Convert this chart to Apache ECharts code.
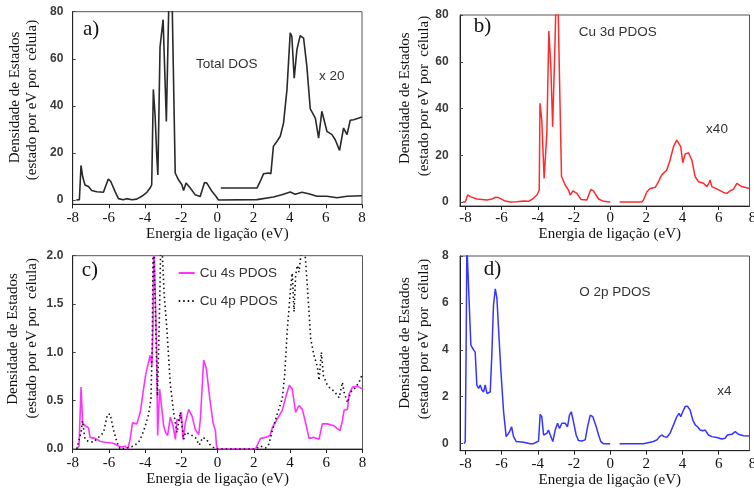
<!DOCTYPE html>
<html>
<head>
<meta charset="utf-8">
<script src="https://cdn.jsdelivr.net/npm/echarts@6/dist/echarts.min.js"></script>
<style>html,body{margin:0;padding:0;background:#fff}#c{width:754px;height:490px}</style>
</head>
<body>
<div id="c"></div>
<script>
// ---- tick labels ----
const xTicks = [-8, -6, -4, -2, 0, 2, 4, 6, 8];
const yTicksA = [0, 20, 40, 60, 80];
const yTicksB = [0, 20, 40, 60, 80];
const yTicksC = [0, 0.5, 1.0, 1.5, 2.0];
const yTicksD = [0, 2, 4, 6, 8];

// ---- a) Total DOS ----
const totalDOS = [[-7.8,0],[-7.63,0.2],[-7.54,14.7],[-7.45,10],[-7.32,6.4],[-7.13,5.8],[-6.95,4.1],[-6.67,3.5],[-6.3,3.3],[-6.15,6.5],[-6.03,8.9],[-5.9,8],[-5.84,7.5],[-5.66,3.7],[-5.47,0.6],[-5.2,0.1],[-5.01,0.6],[-4.73,0.1],[-4.46,0.4],[-4.18,1.6],[-3.9,3.3],[-3.72,5.1],[-3.63,6.5],[-3.54,47],[-3.44,35.6],[-3.35,18.6],[-3.29,10.7],[-3.17,65],[-3.0,76.6],[-2.82,33.4],[-2.68,85],[-2.5,84],[-2.33,11.5],[-2.15,8.6],[-1.96,6.5],[-1.87,4.1],[-1.73,7.2],[-1.5,5.1],[-1.23,2.3],[-0.95,1.5],[-0.71,7.5],[-0.58,7.2],[-0.3,3.7],[-0.07,1.5],[0.06,0],[2.19,0.2],[3.1,1.3],[3.57,2.3],[4.03,3.4],[4.3,2.5],[4.68,3.3],[5.05,2.7],[5.51,1.6],[6.06,1.6],[6.62,1.0],[7.17,1.6],[8,1.8]];
const totalDOSx20 = [[0.19,5.1],[2.19,5.1],[2.37,7.9],[2.56,11.2],[2.83,11.5],[2.96,11.2],[3.1,22.8],[3.29,24.9],[3.48,27.1],[3.66,32.7],[3.85,46.9],[4.03,71],[4.12,69.5],[4.25,51.8],[4.4,63.9],[4.58,69.8],[4.77,68.8],[4.95,56.8],[5.14,38.7],[5.42,34.8],[5.6,26.3],[5.78,37.7],[6.06,29.2],[6.34,27.8],[6.52,25.6],[6.76,21.1],[6.98,30.6],[7.17,27.8],[7.35,33.9],[7.54,34.1],[8,35.3]];

// ---- b) Cu 3d PDOS ----
const cu3dOcc = [[-8.14,0],[-8.01,0],[-7.88,3.0],[-7.73,2.3],[-7.37,1.3],[-6.81,0.9],[-6.54,1.3],[-6.35,2.0],[-6.17,1.9],[-5.8,0.4],[-5.52,0],[-5.16,0.1],[-4.79,0.4],[-4.51,0.3],[-4.24,1.6],[-4.05,3.0],[-3.92,5.1],[-3.88,42.2],[-3.78,35.1],[-3.65,10.1],[-3.5,29.4],[-3.39,73.2],[-3.28,57.9],[-3.18,32.2],[-3.06,65],[-3.0,84],[-2.88,84],[-2.78,45],[-2.69,11],[-2.49,7.3],[-2.3,5.1],[-2.21,3.0],[-2.06,4.8],[-1.84,3.7],[-1.62,1.1],[-1.29,0.9],[-1.07,5.4],[-0.92,4.7],[-0.64,1.3],[-0.37,0.3],[0,0]];
const cu3dUnocc = [[0.52,0],[1.75,0],[1.84,0.9],[2.03,4.4],[2.21,5.8],[2.49,6.3],[2.67,8.7],[2.85,11.6],[3.13,13.7],[3.31,18],[3.5,23.7],[3.68,26.5],[3.78,26.5],[3.9,23.7],[4.01,16.8],[4.14,20.5],[4.33,21.1],[4.51,18],[4.7,10.8],[4.88,8.7],[5.16,8.0],[5.34,6.6],[5.47,8.3],[5.52,9.4],[5.62,6.6],[5.89,5.6],[6.26,4.1],[6.45,3.7],[6.63,4.8],[6.81,5.4],[7.0,8.0],[7.27,6.6],[7.7,5.8]];

// ---- c) Cu 4s / Cu 4p PDOS ----
const cu4s = [[-7.78,0],[-7.65,0.03],[-7.54,0.64],[-7.45,0.27],[-7.32,0.24],[-7.13,0.22],[-7.04,0.12],[-6.76,0.11],[-6.49,0.08],[-6.21,0.07],[-5.75,0.06],[-5.47,0.03],[-5.29,0.02],[-5.1,0.03],[-4.96,0],[-4.83,0.1],[-4.7,0.27],[-4.46,0.26],[-4.27,0.38],[-4.09,0.62],[-3.96,0.78],[-3.85,0.78],[-3.72,0.97],[-3.63,0.86],[-3.57,1.24],[-3.52,2.2],[-3.44,2.2],[-3.37,1.07],[-3.31,0.14],[-3.2,0.62],[-3.09,0.62],[-2.98,0.24],[-2.87,0.17],[-2.76,0.14],[-2.61,0.33],[-2.46,0.24],[-2.33,0.1],[-2.24,0.31],[-2.11,0.29],[-2.0,0.38],[-1.91,0.1],[-1.78,0.27],[-1.6,0.41],[-1.41,0.34],[-1.23,0.2],[-1.04,0.15],[-0.95,0.31],[-0.77,0.92],[-0.62,0.83],[-0.43,0.52],[-0.25,0.27],[-0.12,0.19],[-0.06,0.03],[0,0],[2.09,0],[2.37,0.11],[2.65,0.12],[2.89,0.14],[3.02,0.22],[3.29,0.31],[3.57,0.4],[3.81,0.57],[3.96,0.66],[4.12,0.62],[4.31,0.38],[4.49,0.45],[4.68,0.41],[4.86,0.27],[5.05,0.11],[5.32,0.12],[5.6,0.1],[5.78,0.26],[6.06,0.26],[6.43,0.24],[6.76,0.19],[6.89,0.29],[6.98,0.4],[7.17,0.41],[7.26,0.57],[7.45,0.64],[7.72,0.65],[8,0.62]];
const cu4p = [[-7.78,0],[-7.54,0.17],[-7.46,0.29],[-7.32,0.1],[-7.13,0.08],[-6.86,0.07],[-6.58,0.12],[-6.3,0.17],[-6.08,0.36],[-5.93,0.36],[-5.75,0.2],[-5.56,0.07],[-5.38,0],[-5.01,0.01],[-4.64,0.03],[-4.36,0.07],[-4.18,0.14],[-3.99,0.24],[-3.81,0.36],[-3.68,0.52],[-3.61,1.07],[-3.55,2.3],[-3.45,2.3],[-3.38,1.0],[-3.32,0.55],[-3.22,1.3],[-3.12,2.3],[-3.04,2.3],[-2.95,1.6],[-2.8,1.24],[-2.61,0.67],[-2.43,0.38],[-2.24,0.17],[-2.06,0.38],[-1.87,0.1],[-1.78,0.17],[-1.5,0.15],[-1.23,0.12],[-1.01,0.04],[-0.82,0.12],[-0.62,0.1],[-0.4,0.04],[-0.12,0],[2.09,0],[2.37,0.03],[2.65,0.01],[2.83,0.05],[3.02,0.19],[3.29,0.36],[3.57,0.52],[3.7,0.76],[3.85,1.24],[4.03,1.66],[4.12,1.82],[4.22,1.42],[4.31,1.8],[4.4,1.9],[4.49,1.83],[4.58,1.97],[4.68,2.1],[4.8,2.1],[4.95,1.7],[5.14,1.14],[5.32,0.97],[5.51,0.85],[5.6,0.71],[5.73,1.0],[5.84,0.76],[6.06,0.66],[6.25,0.62],[6.43,0.6],[6.71,0.53],[6.89,0.69],[6.98,0.59],[7.17,0.48],[7.35,0.59],[7.54,0.62],[7.81,0.69],[8,0.78]];

// ---- d) O 2p PDOS ----
const o2pOcc = [[-8.07,0],[-8.01,0.09],[-7.96,4.2],[-7.92,8.5],[-7.81,8.5],[-7.7,4.2],[-7.55,4.0],[-7.46,3.9],[-7.37,2.5],[-7.27,2.36],[-7.18,2.5],[-7.09,2.29],[-7.0,2.2],[-6.91,2.5],[-6.81,2.14],[-6.63,2.2],[-6.54,3.8],[-6.45,5.9],[-6.35,6.6],[-6.26,6.2],[-6.17,4.9],[-6.04,3.1],[-5.89,1.36],[-5.75,0.3],[-5.66,0.3],[-5.56,0.51],[-5.45,0.72],[-5.34,0.3],[-5.19,0.09],[-4.79,0.06],[-4.42,0],[-4.24,0],[-4.09,0.06],[-3.96,0.11],[-3.87,1.25],[-3.78,1.15],[-3.68,0.37],[-3.5,0.44],[-3.41,0.58],[-3.31,0.37],[-3.17,0.09],[-3.04,0.58],[-2.91,0.87],[-2.8,0.65],[-2.67,0.87],[-2.49,0.87],[-2.36,0.72],[-2.25,1.22],[-2.15,1.36],[-2.03,0.94],[-1.88,0.37],[-1.75,0.13],[-1.57,0.11],[-1.38,0.16],[-1.25,0.72],[-1.1,1.22],[-0.96,1.15],[-0.77,0.72],[-0.64,0.37],[-0.52,0.09],[-0.37,0],[0,0]];
const o2pUnocc = [[0.52,0],[1.84,0],[2.39,0.09],[2.58,0.16],[2.73,0.3],[2.85,0.37],[2.98,0.3],[3.13,0.27],[3.31,0.44],[3.5,0.8],[3.68,1.15],[3.81,1.29],[3.9,1.15],[4.01,1.36],[4.14,1.58],[4.27,1.6],[4.42,1.43],[4.57,1.0],[4.7,0.8],[4.83,0.72],[4.97,0.58],[5.12,0.55],[5.25,0.58],[5.43,0.37],[5.62,0.3],[5.89,0.26],[6.17,0.2],[6.35,0.23],[6.48,0.37],[6.72,0.4],[6.91,0.51],[7.09,0.4],[7.37,0.34],[7.7,0.33]];

// ---- text ----
const xTitle = 'Energia de ligação (eV)';
const yTitle1 = 'Densidade de Estados';
const yTitle2 = '(estado por eV por  célula)';

const SERIF = 'Liberation Serif';
const SANS = 'Liberation Sans';

const chart = echarts.init(document.getElementById('c'), null, {renderer: 'canvas'});

function xAxisDef(gi, min, max, labelMargin, nameGap, namePadLeft) {
  const ticks = xTicks.filter(v => v >= min && v <= max);
  return {
    type: 'value', gridIndex: gi, min: min, max: max,
    axisLine: {show: true, onZero: false, lineStyle: {color: '#222', width: 1}},
    axisTick: {show: true, inside: false, length: 4, customValues: ticks, lineStyle: {color: '#222'}},
    axisLabel: {show: true, customValues: ticks, margin: labelMargin, fontFamily: SERIF, fontSize: 15, color: '#111'},
    splitLine: {show: false},
    name: xTitle, nameLocation: 'middle', nameGap: nameGap,
    nameTextStyle: {fontFamily: SERIF, fontSize: 15, color: '#111', padding: [0, 0, 0, namePadLeft]}
  };
}
function yAxisDef(gi, min, max, ticks, margin, fmt) {
  return {
    type: 'value', gridIndex: gi, min: min, max: max,
    axisLine: {show: true, onZero: false, lineStyle: {color: '#222', width: 1}},
    axisTick: {show: true, inside: true, length: 3, customValues: ticks, lineStyle: {color: '#444'}},
    axisLabel: {show: true, customValues: ticks, margin: margin, fontFamily: SANS, fontSize: 12, fontWeight: 'bold', color: '#3a3a3a',
      formatter: fmt || (v => String(v))},
    splitLine: {show: false}
  };
}
function lineSeries(name, xi, data, color, width, dash) {
  return {
    type: 'line', name: name, xAxisIndex: xi, yAxisIndex: xi, data: data,
    showSymbol: false, symbol: 'none', smooth: false, clip: true,
    lineStyle: {color: color, width: width, type: dash || 'solid'},
    itemStyle: {color: color}
  };
}
function gText(x, y, text, font, size, color, align, rot) {
  return {
    type: 'text', x: x, y: y, rotation: rot || 0,
    style: {text: text, fontFamily: font, fontSize: size, fill: color, align: align || 'center', verticalAlign: 'middle'}
  };
}

const R90 = Math.PI / 2;
const option = {
  animation: false,
  backgroundColor: '#fff',
  grid: [
    {left: 72.7, top: 11.7, width: 289.3, height: 192.6, show: true, borderColor: '#555', borderWidth: 1},
    {left: 460, top: 15, width: 289.5, height: 191, show: true, borderColor: '#555', borderWidth: 1},
    {left: 72.7, top: 255.7, width: 289.8, height: 193.3, show: true, borderColor: '#555', borderWidth: 1},
    {left: 460, top: 256, width: 289.5, height: 194.7, show: true, borderColor: '#555', borderWidth: 1}
  ],
  xAxis: [
    xAxisDef(0, -8, 8, 6, 15.5, 0),
    xAxisDef(1, -8.3, 7.7, 5, 20.5, 10),
    xAxisDef(2, -8, 8, 7, 22.5, 0),
    xAxisDef(3, -8.3, 7.7, 5.5, 21, 10)
  ],
  yAxis: [
    yAxisDef(0, -1.8, 80, yTicksA, 9.4),
    yAxisDef(1, -1.7, 80, yTicksB, 11.3),
    yAxisDef(2, 0, 2, yTicksC, 9.4, v => v.toFixed(1)),
    yAxisDef(3, -0.3, 8, yTicksD, 11.3)
  ],
  legend: {
    data: ['Cu 4s PDOS', 'Cu 4p PDOS'],
    orient: 'vertical', left: 172.7, top: 261,
    itemWidth: 16, itemHeight: 14, itemGap: 14,
    itemStyle: {opacity: 0},
    textStyle: {fontFamily: SANS, fontSize: 13.5, color: '#333'}
  },
  series: [
    lineSeries('Total DOS', 0, totalDOS, '#2a2a2a', 1.6),
    lineSeries('Total DOS x 20', 0, totalDOSx20, '#2a2a2a', 1.6),
    lineSeries('Cu 3d PDOS', 1, cu3dOcc, '#ff2b2b', 1.5),
    lineSeries('Cu 3d PDOS x40', 1, cu3dUnocc, '#ff2b2b', 1.5),
    lineSeries('Cu 4s PDOS', 2, cu4s, '#ff33ff', 1.6),
    lineSeries('Cu 4p PDOS', 2, cu4p, '#111111', 1.6, [1.5, 3]),
    lineSeries('O 2p PDOS', 3, o2pOcc, '#3535ff', 1.5),
    lineSeries('O 2p PDOS x4', 3, o2pUnocc, '#3535ff', 1.5)
  ],
  graphic: [
    gText(83, 29, 'a)', SERIF, 21, '#111', 'left'),
    gText(226.7, 64, 'Total DOS', SANS, 13.5, '#333'),
    gText(331.7, 76, 'x 20', SANS, 13.5, '#333'),
    gText(473.7, 26.7, 'b)', SERIF, 21, '#111', 'left'),
    gText(617.8, 32.3, 'Cu 3d PDOS', SANS, 13.5, '#333'),
    gText(717, 129.3, 'x40', SANS, 13.5, '#333'),
    gText(81.7, 270, 'c)', SERIF, 21, '#111', 'left'),
    gText(483.7, 269, 'd)', SERIF, 21, '#111', 'left'),
    gText(614.8, 292.7, 'O 2p PDOS', SANS, 13.5, '#333'),
    gText(724.3, 391.7, 'x4', SANS, 13.5, '#333'),
    gText(752.5, 218.3, '8', SERIF, 15, '#111'),
    gText(752.5, 463.7, '8', SERIF, 15, '#111'),
    gText(15, 97.5, yTitle1, SERIF, 15, '#111', 'center', R90),
    gText(31.7, 100, yTitle2, SERIF, 15, '#111', 'center', R90),
    gText(405.3, 98.3, yTitle1, SERIF, 15, '#111', 'center', R90),
    gText(423.7, 96, yTitle2, SERIF, 15, '#111', 'center', R90),
    gText(13.3, 339, yTitle1, SERIF, 15, '#111', 'center', R90),
    gText(31.7, 338.3, yTitle2, SERIF, 15, '#111', 'center', R90),
    gText(405, 343, yTitle1, SERIF, 15, '#111', 'center', R90),
    gText(423.7, 339, yTitle2, SERIF, 15, '#111', 'center', R90)
  ]
};
chart.setOption(option);
</script>
</body>
</html>
